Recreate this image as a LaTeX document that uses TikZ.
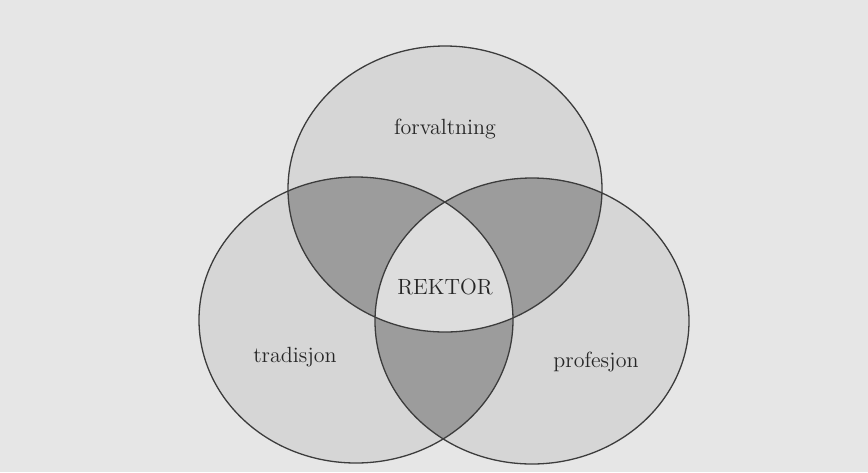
\documentclass[tikz,border=0pt]{standalone}
\usetikzlibrary{positioning}

\definecolor{paper}{HTML}{E6E6E6}
\definecolor{single}{HTML}{D6D6D6}
\definecolor{lens}{HTML}{9C9C9C}
\definecolor{core}{HTML}{DDDDDD}
\definecolor{rim}{HTML}{3C3C3C}

\tikzset{
  ringline/.style={draw=rim, line width=0.65pt},
  label/.style={font=\fontsize{11}{13}\selectfont, text=black!85},
}

\begin{document}
\begin{tikzpicture}[x=0.5pt,y=-0.5pt]
            \fill[paper] (0,0) rectangle (868,472);
            \coordinate (F) at (445,189);
            \coordinate (T) at (356,320);
            \coordinate (P) at (532,321);
            \def\ringF{(F) ellipse [x radius=78.5pt, y radius=71.5pt]}
            \def\ringT{(T) ellipse [x radius=78.5pt, y radius=71.5pt]}
            \def\ringP{(P) ellipse [x radius=78.5pt, y radius=71.5pt]}
            % one circle each
            \fill[single] \ringF \ringT \ringP;
            % two circles
            \begin{scope}
              \clip \ringF;
              \fill[lens] \ringT;
              \fill[lens] \ringP;
            \end{scope}
            \begin{scope}
              \clip \ringT;
              \fill[lens] \ringP;
            \end{scope}
            % all three
            \begin{scope}
              \clip \ringF;
              \clip \ringT;
              \fill[core] \ringP;
            \end{scope}
            \draw[ringline] \ringF;
            \draw[ringline] \ringT;
            \draw[ringline] \ringP;
            \node[label] (forv) at (445,129) {forvaltning};
            \node[label] (rektor) at (445,287) {REKTOR};
            \node[label] (trad) at (295,357) {tradisjon};
            \node[label] (prof) at (596,362) {profesjon};
        \end{tikzpicture}
\end{document}
